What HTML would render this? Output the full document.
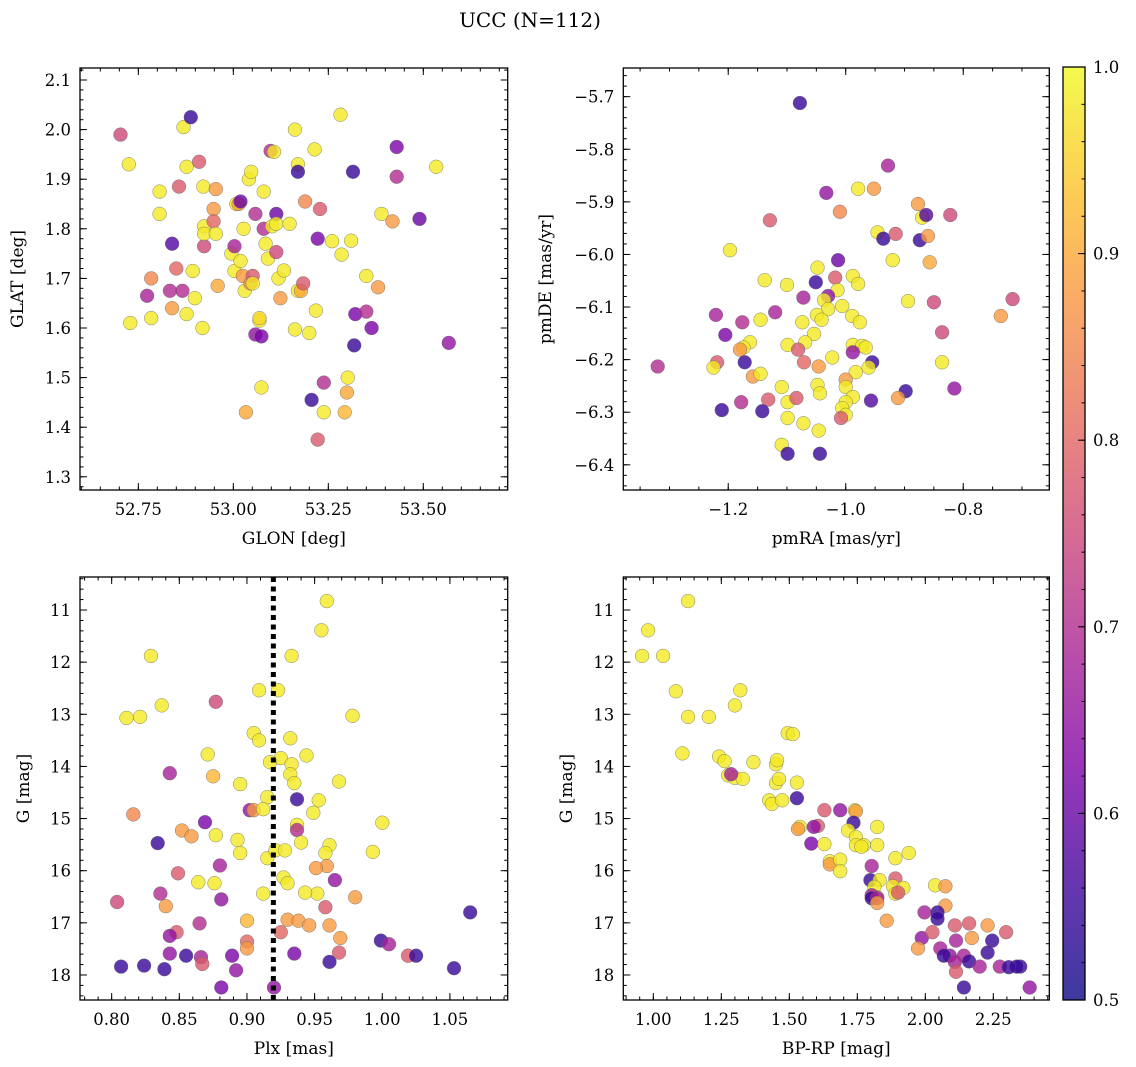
<!DOCTYPE html>
<html><head><meta charset="utf-8"><title>UCC (N=112)</title>
<style>
html,body{margin:0;padding:0;background:#fff;}
svg{display:block;font-family:"DejaVu Serif","Liberation Serif",serif;}
</style></head>
<body>
<svg id="fig" width="1136" height="1067" viewBox="0 0 1136 1067" xmlns="http://www.w3.org/2000/svg">
<rect width="1136" height="1067" fill="#fff"/>
<text x="530" y="27" text-anchor="middle" font-size="20">UCC (N=112)</text>
</svg>
<script>
// ---- Data: [x, y, membership probability] ----
const glonGlat = [
[52.703,1.99,0.75],[52.725,1.93,0.98],[52.729,1.61,0.98],[52.773,1.665,0.68],[52.784,1.70,0.85],[52.784,1.62,0.98],
[52.806,1.875,0.98],[52.806,1.83,0.98],[52.833,1.675,0.70],[52.839,1.77,0.58],[52.839,1.64,0.88],[52.850,1.72,0.80],
[52.857,1.885,0.78],[52.866,1.675,0.70],[52.869,2.005,0.98],[52.877,1.925,0.98],[52.877,1.628,0.98],[52.888,2.025,0.55],
[52.893,1.715,0.98],[52.899,1.66,0.98],[52.910,1.935,0.78],[52.919,1.60,0.98],[52.921,1.885,0.98],[52.923,1.805,0.98],
[52.923,1.765,0.75],[52.923,1.79,0.98],[52.948,1.84,0.88],[52.948,1.815,0.80],[52.954,1.88,0.88],[52.954,1.79,0.98],
[52.959,1.685,0.90],[52.995,1.75,0.98],[53.003,1.765,0.68],[53.003,1.715,0.98],[53.008,1.85,0.98],[53.014,1.85,0.88],
[53.019,1.855,0.60],[53.019,1.735,0.98],[53.025,1.705,0.88],[53.027,1.80,0.98],[53.030,1.675,0.98],[53.033,1.43,0.90],
[53.041,1.90,0.98],[53.045,1.69,0.85],[53.047,1.915,0.98],[53.051,1.705,0.78],[53.051,1.69,0.98],[53.058,1.83,0.70],
[53.058,1.587,0.65],[53.069,1.615,0.98],[53.069,1.62,0.96],[53.074,1.583,0.62],[53.074,1.48,0.98],[53.080,1.875,0.98],
[53.080,1.80,0.70],[53.085,1.77,0.98],[53.091,1.74,0.98],[53.098,1.957,0.70],[53.102,1.805,0.98],[53.107,1.955,0.98],
[53.113,1.83,0.60],[53.113,1.753,0.75],[53.113,1.81,0.98],[53.119,1.70,0.98],[53.124,1.66,0.88],[53.133,1.716,0.98],
[53.148,1.81,0.98],[53.162,2.0,0.98],[53.162,1.597,0.98],[53.170,1.93,0.98],[53.170,1.915,0.55],[53.170,1.675,0.98],
[53.178,1.675,0.90],[53.184,1.69,0.78],[53.189,1.855,0.85],[53.200,1.59,0.98],[53.206,1.455,0.55],[53.217,1.635,0.98],
[53.214,1.96,0.98],[53.222,1.78,0.62],[53.228,1.84,0.78],[53.238,1.43,0.98],[53.238,1.49,0.70],[53.260,1.775,0.98],
[53.282,2.03,0.98],[53.285,1.748,0.98],[53.301,1.50,0.98],[53.299,1.47,0.90],[53.310,1.776,0.98],[53.315,1.915,0.55],
[53.321,1.628,0.62],[53.318,1.565,0.55],[53.350,1.633,0.70],[53.350,1.705,0.98],[53.364,1.60,0.62],[53.390,1.83,0.98],
[53.381,1.682,0.88],[53.419,1.815,0.88],[53.430,1.905,0.70],[53.430,1.965,0.62],[53.490,1.82,0.60],[53.534,1.925,0.98],
[53.567,1.57,0.65],[53.222,1.375,0.78],[53.293,1.43,0.92]
];
const pmraPmde = [
[-1.078,-5.712,0.55],[-0.928,-5.831,0.68],[-1.033,-5.883,0.65],[-0.979,-5.875,0.98],[-0.952,-5.875,0.88],[-0.877,-5.904,0.88],
[-0.870,-5.930,0.98],[-0.863,-5.925,0.58],[-0.822,-5.925,0.75],[-1.010,-5.919,0.85],[-1.129,-5.935,0.78],[-0.946,-5.958,0.98],
[-0.936,-5.970,0.55],[-0.915,-5.961,0.78],[-0.874,-5.973,0.55],[-0.860,-5.965,0.88],[-1.197,-5.992,0.98],[-1.013,-6.011,0.60],
[-0.920,-6.011,0.98],[-0.857,-6.015,0.90],[-1.048,-6.025,0.98],[-1.138,-6.049,0.98],[-1.051,-6.053,0.55],[-1.100,-6.058,0.98],
[-1.018,-6.044,0.78],[-0.988,-6.041,0.98],[-0.979,-6.056,0.98],[-1.014,-6.068,0.98],[-1.030,-6.079,0.65],[-1.072,-6.082,0.68],
[-1.037,-6.087,0.98],[-0.894,-6.089,0.98],[-0.850,-6.091,0.75],[-0.716,-6.085,0.75],[-1.006,-6.098,0.98],[-1.030,-6.104,0.98],
[-1.120,-6.110,0.68],[-1.221,-6.115,0.68],[-1.049,-6.115,0.98],[-0.989,-6.117,0.98],[-0.736,-6.117,0.88],[-1.145,-6.124,0.98],
[-1.176,-6.129,0.70],[-1.074,-6.129,0.98],[-1.041,-6.124,0.98],[-0.976,-6.129,0.98],[-0.836,-6.148,0.75],[-1.205,-6.153,0.62],
[-1.054,-6.151,0.98],[-1.163,-6.167,0.98],[-1.099,-6.172,0.98],[-1.069,-6.167,0.98],[-0.988,-6.172,0.98],[-0.972,-6.174,0.98],
[-1.174,-6.177,0.98],[-1.180,-6.181,0.88],[-1.081,-6.181,0.78],[-0.988,-6.186,0.65],[-0.966,-6.177,0.98],[-1.023,-6.196,0.98],
[-1.219,-6.205,0.78],[-1.172,-6.205,0.55],[-1.071,-6.205,0.80],[-0.955,-6.205,0.55],[-0.836,-6.205,0.98],[-1.046,-6.213,0.88],
[-1.320,-6.213,0.70],[-1.225,-6.215,0.98],[-0.961,-6.215,0.98],[-0.983,-6.224,0.98],[-1.158,-6.232,0.88],[-1.145,-6.227,0.98],
[-1.000,-6.238,0.88],[-1.048,-6.248,0.98],[-1.109,-6.252,0.98],[-1.000,-6.252,0.98],[-0.815,-6.255,0.65],[-0.898,-6.260,0.55],
[-1.044,-6.264,0.98],[-0.988,-6.271,0.98],[-1.178,-6.281,0.70],[-1.132,-6.276,0.78],[-1.099,-6.281,0.98],[-1.084,-6.273,0.78],
[-0.957,-6.278,0.58],[-0.911,-6.273,0.88],[-1.000,-6.281,0.98],[-1.006,-6.292,0.98],[-1.211,-6.296,0.55],[-1.142,-6.298,0.55],
[-1.099,-6.311,0.98],[-1.000,-6.305,0.98],[-1.008,-6.311,0.78],[-1.072,-6.321,0.98],[-1.046,-6.335,0.98],[-1.109,-6.362,0.98],
[-1.099,-6.379,0.55],[-1.044,-6.379,0.55]
];
const plxG = [
[0.959,10.83,0.98],[0.955,11.39,0.98],[0.829,11.88,0.98],[0.933,11.88,0.98],[0.811,13.07,0.98],[0.821,13.05,0.98],
[0.837,12.83,0.98],[0.877,12.76,0.75],[0.909,12.54,0.98],[0.923,12.54,0.98],[0.978,13.03,0.98],[0.905,13.36,0.98],
[0.909,13.50,0.98],[0.932,13.46,0.98],[0.871,13.77,0.98],[0.944,13.79,0.98],[0.925,13.84,0.98],[0.917,13.92,0.98],
[0.933,13.96,0.98],[0.875,14.19,0.92],[0.843,14.13,0.68],[0.932,14.15,0.98],[0.968,14.29,0.98],[0.935,14.32,0.98],
[0.895,14.34,0.98],[0.915,14.59,0.98],[0.937,14.63,0.55],[0.816,14.92,0.85],[0.902,14.84,0.65],[0.905,14.84,0.88],
[0.953,14.65,0.98],[0.912,14.82,0.98],[0.949,14.89,0.98],[1.000,15.08,0.98],[0.869,15.07,0.62],[0.937,15.12,0.98],
[0.937,15.22,0.70],[0.834,15.47,0.55],[0.852,15.23,0.88],[0.859,15.34,0.88],[0.877,15.32,0.98],[0.893,15.41,0.98],
[0.895,15.66,0.98],[0.915,15.76,0.98],[0.921,15.61,0.98],[0.928,15.61,0.98],[0.940,15.46,0.98],[0.961,15.51,0.98],
[0.958,15.66,0.98],[0.993,15.64,0.98],[0.959,15.91,0.88],[0.880,15.90,0.68],[0.849,16.05,0.78],[0.951,15.95,0.88],
[0.927,16.13,0.98],[0.965,16.18,0.65],[0.864,16.22,0.98],[0.876,16.24,0.98],[0.930,16.24,0.98],[0.952,16.44,0.98],
[0.943,16.42,0.98],[0.912,16.44,0.98],[0.836,16.44,0.70],[0.881,16.55,0.65],[0.980,16.51,0.88],[0.804,16.60,0.75],
[0.840,16.68,0.88],[0.958,16.70,0.78],[0.930,16.94,0.88],[0.938,16.96,0.88],[1.065,16.80,0.55],[0.900,16.96,0.92],
[0.865,17.01,0.70],[0.946,17.05,0.88],[0.961,17.05,0.88],[0.848,17.18,0.78],[0.925,17.18,0.80],[0.843,17.25,0.65],
[0.969,17.29,0.88],[0.900,17.36,0.80],[0.999,17.34,0.55],[1.005,17.41,0.68],[0.900,17.49,0.88],[0.843,17.59,0.65],
[0.855,17.63,0.55],[0.889,17.63,0.62],[0.935,17.59,0.62],[0.968,17.57,0.78],[0.866,17.66,0.68],[1.019,17.63,0.78],
[1.025,17.63,0.55],[0.867,17.79,0.78],[0.961,17.75,0.55],[0.807,17.84,0.55],[0.824,17.82,0.55],[0.839,17.89,0.55],
[0.892,17.91,0.65],[1.053,17.87,0.55],[0.881,18.24,0.62],[0.920,18.24,0.65]
];
const bprpG = [
[1.128,10.83,0.98],[0.981,11.39,0.98],[0.959,11.88,0.98],[1.036,11.88,0.98],[1.083,12.56,0.98],[1.320,12.54,0.98],
[1.128,13.05,0.98],[1.204,13.05,0.98],[1.300,12.83,0.98],[1.494,13.36,0.98],[1.513,13.38,0.98],[1.107,13.75,0.98],
[1.242,13.81,0.98],[1.262,13.90,0.98],[1.368,13.92,0.98],[1.451,13.96,0.98],[1.455,13.88,0.98],[1.275,14.17,0.98],
[1.300,14.22,0.98],[1.329,14.24,0.98],[1.286,14.15,0.68],[1.451,14.32,0.98],[1.462,14.24,0.98],[1.426,14.65,0.98],
[1.436,14.72,0.98],[1.528,14.31,0.98],[1.528,14.61,0.55],[1.474,14.65,0.98],[1.629,14.84,0.78],[1.687,14.84,0.65],
[1.741,14.84,0.98],[1.745,14.86,0.88],[1.539,15.16,0.98],[1.532,15.20,0.88],[1.605,15.14,0.78],[1.590,15.16,0.65],
[1.736,15.08,0.55],[1.716,15.23,0.98],[1.823,15.16,0.98],[1.745,15.36,0.98],[1.774,15.51,0.98],[1.745,15.51,0.98],
[1.581,15.48,0.62],[1.629,15.49,0.98],[1.823,15.51,0.98],[1.765,15.54,0.98],[1.649,15.82,0.98],[1.649,15.88,0.88],
[1.687,15.79,0.98],[1.890,15.76,0.98],[1.939,15.66,0.98],[1.803,15.91,0.68],[1.687,16.01,0.98],[1.798,16.18,0.55],
[1.890,16.15,0.78],[1.832,16.18,0.98],[1.881,16.30,0.98],[1.890,16.44,0.98],[1.919,16.33,0.98],[1.813,16.31,0.98],
[1.823,16.51,0.88],[1.900,16.42,0.78],[2.036,16.28,0.98],[2.074,16.30,0.88],[1.803,16.47,0.68],[1.803,16.53,0.55],
[1.823,16.53,0.68],[1.823,16.62,0.88],[2.074,16.67,0.88],[1.997,16.80,0.68],[2.045,16.80,0.55],[1.858,16.96,0.88],
[2.045,16.92,0.55],[2.109,17.05,0.78],[2.161,17.01,0.78],[2.229,17.05,0.88],[2.297,17.18,0.78],[2.113,17.34,0.68],
[2.171,17.29,0.88],[2.246,17.34,0.55],[1.987,17.29,0.65],[2.055,17.49,0.68],[1.973,17.49,0.88],[2.090,17.63,0.65],
[2.068,17.63,0.55],[2.142,17.63,0.68],[2.229,17.57,0.55],[2.109,17.75,0.68],[2.161,17.74,0.55],[2.200,17.84,0.68],
[2.274,17.84,0.68],[2.349,17.84,0.55],[2.336,17.84,0.55],[2.307,17.85,0.55],[2.142,18.24,0.55],[2.384,18.24,0.65],
[2.113,17.94,0.78],[2.026,17.18,0.78]
];
const plxMedian = [0.9195];
const xTicks1 = [52.75, 53.00, 53.25, 53.50];
const yTicks1 = [1.3,1.4,1.5,1.6,1.7,1.8,1.9,2.0,2.1];
const xTicks2 = [-1.2, -1.0, -0.8];
const yTicks2 = [-5.7,-5.8,-5.9,-6.0,-6.1,-6.2,-6.3,-6.4];
const xTicks3 = [0.80,0.85,0.90,0.95,1.00,1.05];
const yTicksG = [11,12,13,14,15,16,17,18];
const xTicks4 = [1.00,1.25,1.50,1.75,2.00,2.25];
const cbTicks = [0.5,0.6,0.7,0.8,0.9,1.0];

// ---- Rendering ----
const NS='http://www.w3.org/2000/svg';
const svg=document.getElementById('fig');
function el(tag,attrs,parent){const e=document.createElementNS(NS,tag);for(const k in attrs)e.setAttribute(k,attrs[k]);(parent||svg).appendChild(e);return e;}
const stops=[[0,[13,8,135]],[0.125,[65,4,157]],[0.25,[126,3,168]],[0.375,[170,35,149]],[0.5,[204,71,120]],[0.625,[230,108,92]],[0.75,[248,149,64]],[0.875,[253,195,40]],[1,[240,249,33]]];
function plasma(t){t=Math.max(0,Math.min(1,t));for(let i=1;i<stops.length;i++){if(t<=stops[i][0]){const a=stops[i-1],b=stops[i];const f=(t-a[0])/(b[0]-a[0]);return 'rgb('+a[1].map((v,j)=>Math.round(v+(b[1][j]-v)*f)).join(',')+')';}}return 'rgb(240,249,33)';}
function col(p){return plasma((p-0.5)/0.5);}
function fmt(v,d){return (v<0?'\u2212':'')+Math.abs(v).toFixed(d);}
const TFS=16.5, LFS=17;

function panel(cfg){
  const g=el('g',{});
  
  
  const sx=v=>cfg.x0+(v-cfg.dx[0])/(cfg.dx[1]-cfg.dx[0])*(cfg.x1-cfg.x0);
  const sy=v=>cfg.y0+(v-cfg.dy[0])/(cfg.dy[1]-cfg.dy[0])*(cfg.y1-cfg.y0);
  const pg=el('g',{},g);
  
  
  cfg.data.forEach(d=>{
    const c=el('circle',{cx:sx(d[0]).toFixed(1),cy:sy(d[1]).toFixed(1),r:6.9,fill:col(d[2]),'fill-opacity':0.8,stroke:'#666','stroke-width':0.4},pg);
    
    
  });
  if(cfg.vline){cfg.vline.forEach(v=>{const l=el('line',{x1:sx(v),x2:sx(v),y1:cfg.y0,y2:cfg.y1,stroke:'#000','stroke-width':5,'stroke-dasharray':'5,4.5'},g);
    
    });}
  const tk=el('g',{stroke:'#000','stroke-width':1},g);
  const xmin=Math.min(...cfg.dx),xmax=Math.max(...cfg.dx),ymin=Math.min(...cfg.dy),ymax=Math.max(...cfg.dy);
  for(let v=Math.ceil(xmin/cfg.mx-1e-6)*cfg.mx;v<=xmax+1e-9;v+=cfg.mx){const X=sx(v);el('line',{x1:X,x2:X,y1:cfg.y1,y2:cfg.y1-3.5},tk);el('line',{x1:X,x2:X,y1:cfg.y0,y2:cfg.y0+3.5},tk);}
  for(let v=Math.ceil(ymin/cfg.my-1e-6)*cfg.my;v<=ymax+1e-9;v+=cfg.my){const Y=sy(v);el('line',{x1:cfg.x0,x2:cfg.x0+3.5,y1:Y,y2:Y},tk);el('line',{x1:cfg.x1,x2:cfg.x1-3.5,y1:Y,y2:Y},tk);}
  cfg.xt.forEach(v=>{const X=sx(v);el('line',{x1:X,x2:X,y1:cfg.y1,y2:cfg.y1-7},tk);el('line',{x1:X,x2:X,y1:cfg.y0,y2:cfg.y0+7},tk);
    const t=el('text',{x:X,y:cfg.y1+25,'text-anchor':'middle','font-size':TFS},g);t.textContent=fmt(v,cfg.xd);
    
    });
  cfg.yt.forEach(v=>{const Y=sy(v);el('line',{x1:cfg.x0,x2:cfg.x0+7,y1:Y,y2:Y},tk);el('line',{x1:cfg.x1,x2:cfg.x1-7,y1:Y,y2:Y},tk);
    const t=el('text',{x:cfg.x0-9,y:Y+6,'text-anchor':'end','font-size':TFS},g);t.textContent=fmt(v,cfg.yd);
    
    });
  const fr=el('rect',{x:cfg.x0,y:cfg.y0,width:cfg.x1-cfg.x0,height:cfg.y1-cfg.y0,fill:'none',stroke:'#000','stroke-width':1.3},g);
  
  
  const xl=el('text',{x:(cfg.x0+cfg.x1)/2,y:cfg.y1+54,'text-anchor':'middle','font-size':LFS},g);xl.textContent=cfg.xlab;
  
  
  const yc=(cfg.y0+cfg.y1)/2;
  const yl=el('text',{x:cfg.ylx,y:yc,'text-anchor':'middle','font-size':LFS,transform:'rotate(-90 '+cfg.ylx+' '+yc+')'},g);yl.textContent=cfg.ylab;
  
  
}

panel({name:'glon-glat-panel',data:glonGlat,x0:80,x1:507.7,y0:68,y1:490,dx:[52.5965,53.7221],dy:[2.1242,1.2734],xt:xTicks1,yt:yTicks1,xd:2,yd:1,mx:0.05,my:0.02,xlab:'GLON [deg]',ylab:'GLAT [deg]',ylx:23});
panel({name:'pm-panel',data:pmraPmde,x0:623.3,x1:1049.3,y0:68,y1:490,dx:[-1.3786,-0.6535],dy:[-5.6455,-6.4479],xt:xTicks2,yt:yTicks2,xd:1,yd:1,mx:0.05,my:0.02,xlab:'pmRA [mas/yr]',ylab:'pmDE [mas/yr]',ylx:551});
panel({name:'plx-g-panel',data:plxG,vline:plxMedian,x0:80,x1:507.7,y0:577,y1:1000,dx:[0.7766,1.0927],dy:[10.367,18.48],xt:xTicks3,yt:yTicksG,xd:2,yd:0,mx:0.01,my:0.2,xlab:'Plx [mas]',ylab:'G [mag]',ylx:29});
panel({name:'cmd-panel',data:bprpG,x0:623.3,x1:1049.3,y0:577,y1:1000,dx:[0.8897,2.4559],dy:[10.367,18.48],xt:xTicks4,yt:yTicksG,xd:2,yd:0,mx:0.05,my:0.2,xlab:'BP-RP [mag]',ylab:'G [mag]',ylx:572});

(function(){
  const g=el('g',{});
  
  
  const x0=1063,x1=1085,y0=67,y1=1000;
  const cy=v=>y1-(v-0.5)/0.5*(y1-y0);
  const defs=el('defs',{},g);
  const lg=el('linearGradient',{id:'cbg',x1:0,y1:1,x2:0,y2:0},defs);
  for(let i=0;i<=20;i++){el('stop',{offset:(i/20),'stop-color':plasma(i/20),'stop-opacity':0.8},lg);}
  el('rect',{x:x0,y:y0,width:x1-x0,height:y1-y0,fill:'url(#cbg)'},g);
  const tk=el('g',{stroke:'#000','stroke-width':1},g);
  for(let v=0.5;v<=1.0001;v+=0.02){el('line',{x1:x1,x2:x1-3.5,y1:cy(v),y2:cy(v)},tk);}
  cbTicks.forEach(v=>{el('line',{x1:x1,x2:x1-7,y1:cy(v),y2:cy(v)},tk);
    const t=el('text',{x:x1+8,y:cy(v)+6,'font-size':TFS},g);t.textContent=v.toFixed(1);
    
    });
  el('rect',{x:x0,y:y0,width:x1-x0,height:y1-y0,fill:'none',stroke:'#000','stroke-width':1.3},g);
})();
</script>
</body></html>
